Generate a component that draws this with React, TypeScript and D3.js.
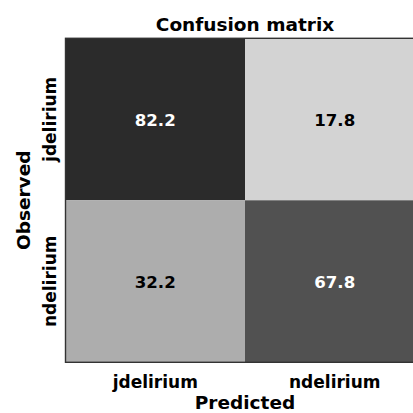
import React from "react";
import * as d3 from "d3";

const observed = ["jdelirium", "ndelirium"];
const predicted = ["jdelirium", "ndelirium"];
// rows = observed, cols = predicted
const values = [
  [82.2, 17.8],
  [32.2, 67.8],
];
const title = "Confusion matrix";
const xLabel = "Predicted";
const yLabel = "Observed";

export default function App() {
  const W = 413;
  const H = 413;
  const left = 65.5;
  const top = 38.3;
  const cellW = 179.5;
  const cellH = 162;
  const x = d3.scaleBand().domain(predicted).range([left, left + cellW * 2]);
  const y = d3.scaleBand().domain(observed).range([top, top + cellH * 2]);
  const flat = values.flat();
  const color = d3
    .scaleLinear<string>()
    .domain([d3.min(flat) as number, d3.max(flat) as number])
    .range(["#d3d3d3", "#2b2b2b"]);
  const font = "DejaVu Sans, sans-serif";
  const cells: any[] = [];
  observed.forEach((o, i) =>
    predicted.forEach((p, j) => cells.push({ o, p, v: values[i][j] }))
  );
  const cx = left + cellW;
  const cy = top + cellH;
  return (
    <svg
      width={W}
      height={H}
      style={{ position: "absolute", left: 0, top: 0, background: "#fff" }}
    >
      <rect x={0} y={0} width={W} height={H} fill="#fff" />
      {cells.map((c, k) => (
        <g key={k}>
          <rect
            x={x(c.p)}
            y={y(c.o)}
            width={x.bandwidth()}
            height={y.bandwidth()}
            fill={color(c.v)}
          />
          <text
            x={(x(c.p) as number) + x.bandwidth() / 2}
            y={(y(c.o) as number) + y.bandwidth() / 2 + 6.3}
            textAnchor="middle"
            fontFamily={font}
            fontWeight="bold"
            fontSize={16.6}
            fill={c.v > 50 ? "#ffffff" : "#000000"}
          >
            {c.v.toFixed(1)}
          </text>
        </g>
      ))}
      <rect
        x={left}
        y={top}
        width={cellW * 2}
        height={cellH * 2}
        fill="none"
        stroke="#333"
        strokeWidth={1.4}
      />
      <text
        x={cx}
        y={30.5}
        textAnchor="middle"
        fontFamily={font}
        fontWeight="bold"
        fontSize={18.5}
        fill="#000"
      >
        {title}
      </text>
      {predicted.map((p) => (
        <text
          key={p}
          x={(x(p) as number) + x.bandwidth() / 2}
          y={387.5}
          textAnchor="middle"
          fontFamily={font}
          fontWeight="bold"
          fontSize={17}
          fill="#000"
        >
          {p}
        </text>
      ))}
      {observed.map((o) => (
        <text
          key={o}
          transform={`translate(55.5,${(y(o) as number) + y.bandwidth() / 2}) rotate(-90)`}
          textAnchor="middle"
          fontFamily={font}
          fontWeight="bold"
          fontSize={17}
          fill="#000"
        >
          {o}
        </text>
      ))}
      <text
        x={cx}
        y={408.5}
        textAnchor="middle"
        fontFamily={font}
        fontWeight="bold"
        fontSize={18.5}
        fill="#000"
      >
        {xLabel}
      </text>
      <text
        transform={`translate(30,${cy}) rotate(-90)`}
        textAnchor="middle"
        fontFamily={font}
        fontWeight="bold"
        fontSize={18.5}
        fill="#000"
      >
        {yLabel}
      </text>
    </svg>
  );
}
